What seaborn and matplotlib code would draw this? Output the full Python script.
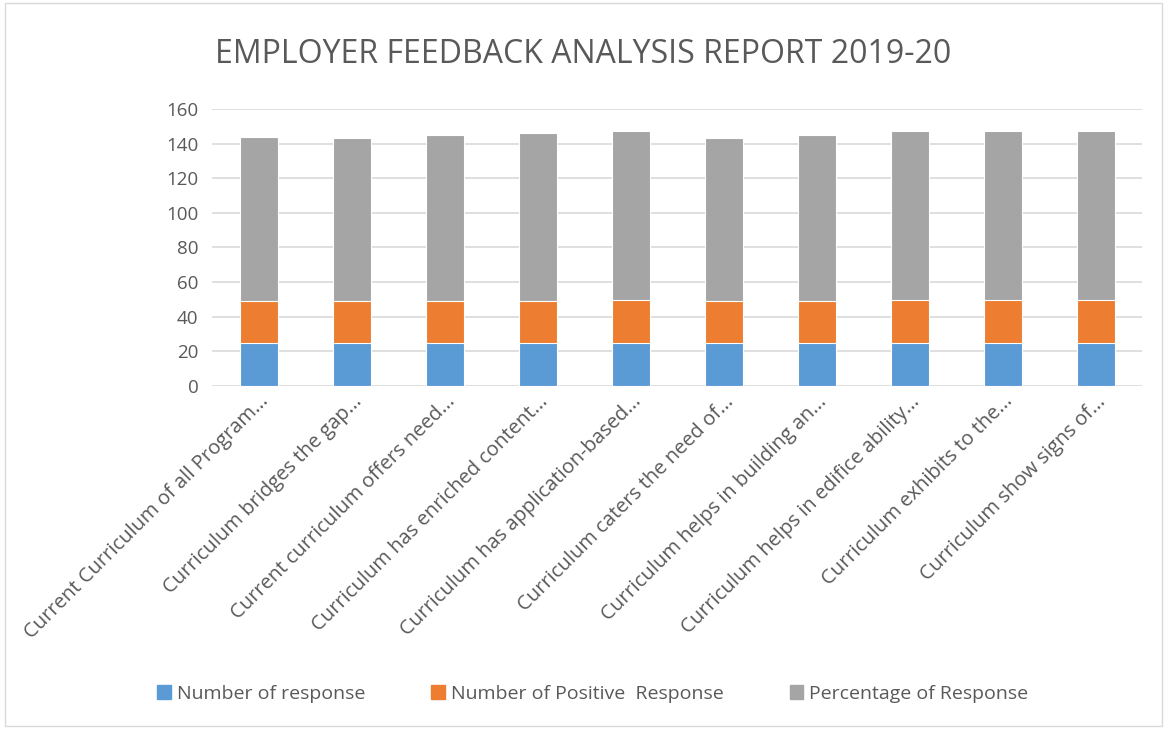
import matplotlib
matplotlib.use("Agg")
import matplotlib.pyplot as plt
import seaborn as sns
import pandas as pd
from matplotlib.patches import Rectangle

# data
questions = [
    "Current Curriculum of all Program...",
    "Curriculum bridges the gap...",
    "Current curriculum offers need...",
    "Curriculum has enriched content...",
    "Curriculum has application-based...",
    "Curriculum caters the need of...",
    "Curriculum helps in building an...",
    "Curriculum helps in edifice ability...",
    "Curriculum exhibits to the...",
    "Curriculum show signs of...",
]
num_response = [25, 25, 25, 25, 25, 25, 25, 25, 25, 25]
num_positive = [24, 24, 24, 24, 24.5, 24, 24, 24.5, 24.5, 24.5]
pct_response = [95, 94.5, 96, 97, 97.5, 94.5, 96, 97.5, 97.5, 97.5]

series_names = ["Number of response", "Number of Positive  Response", "Percentage of Response"]
colors = ["#5B9BD5", "#ED7D31", "#A5A5A5"]

sns.set_theme(style="white")
plt.rcParams["font.family"] = ["Open Sans", "DejaVu Sans"]
text_col = "#595959"

df = pd.DataFrame({
    "question": questions,
    series_names[0]: num_response,
    series_names[1]: num_positive,
    series_names[2]: pct_response,
})

fig = plt.figure(figsize=(11.67, 7.29), dpi=100)
ax = fig.add_axes([0.182, 0.4705, 0.797, 0.38])

# stacked bars: draw cumulative totals from the top series down
cum = df[series_names].cumsum(axis=1)
for name, col in reversed(list(zip(series_names, colors))):
    sns.barplot(data=cum, x=df["question"], y=name, color=col, width=0.4,
                edgecolor="white", linewidth=0.8, ax=ax, saturation=1)

ax.set_ylim(0, 160)
ax.set_xlim(-0.5, len(questions) - 0.5)
ax.set_yticks(range(0, 161, 20))
ax.yaxis.grid(True, color="#D9D9D9", linewidth=1.2)
ax.set_axisbelow(True)
for s in ax.spines.values():
    s.set_visible(False)
ax.set_xlabel("")
ax.set_ylabel("")
ax.tick_params(axis="y", labelsize=13.5, colors=text_col, length=0, pad=10)
ax.tick_params(axis="x", labelsize=14.5, colors=text_col, length=0, pad=4)
plt.setp(ax.get_xticklabels(), rotation=45, ha="right", rotation_mode="anchor")

fig.text(0.5, 0.925, "EMPLOYER FEEDBACK ANALYSIS REPORT 2019-20",
         ha="center", va="center", fontsize=23, color=text_col)

handles = [Rectangle((0, 0), 1, 1, color=c) for c in colors]
fig.legend(handles, series_names, loc="center", bbox_to_anchor=(0.508, 0.048),
           ncol=3, frameon=False, fontsize=14, handlelength=0.7, handleheight=0.7,
           columnspacing=3.4, handletextpad=0.3, labelcolor=text_col)

# thin light border around the chart area
fig.patches.append(Rectangle((0.004, 0.004), 0.992, 0.992, transform=fig.transFigure,
                             fill=False, edgecolor="#D9D9D9", linewidth=1))

fig.savefig("out.png", dpi=100)
